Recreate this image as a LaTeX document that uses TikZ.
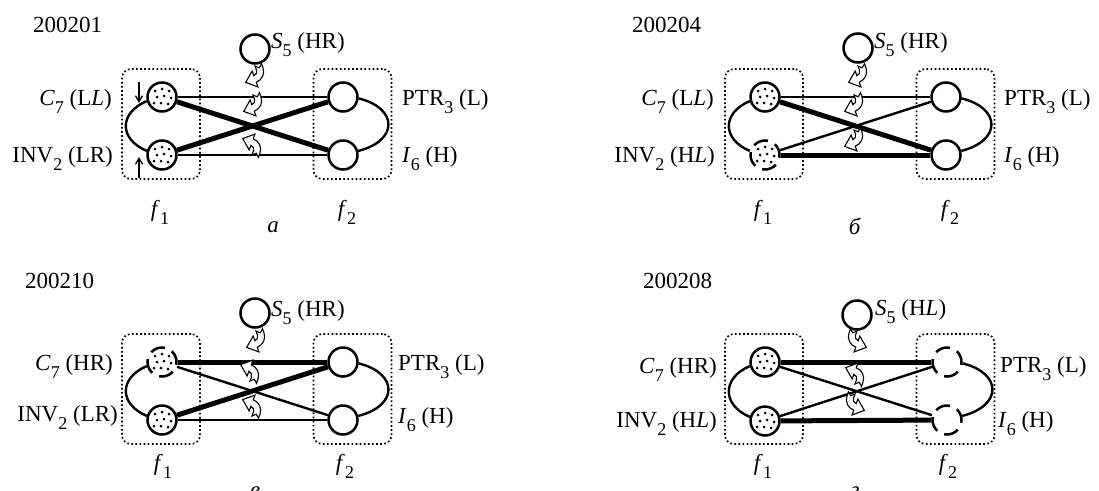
\documentclass[tikz,border=0pt]{standalone}
\usepackage{fontspec}
\setmainfont{Liberation Serif}
\usetikzlibrary{arrows.meta}
% lowered index, set smaller than the main text
\newcommand\lo[1]{\raisebox{-8pt}{\fontsize{18}{18}\selectfont #1}}
\tikzset{
  unit/.style={circle, draw, line width=2.5pt, minimum size=29pt, inner sep=0pt},
  speckled/.style={path picture={
      \foreach \dx/\dy in {-7/-6, 0/-8, 7/-6, -5/0, 2/-1, 9/1, -8/6, -1/6, 6/7}
        \fill ([shift={(\dx,\dy)}]path picture bounding box.center) circle (1.5pt);}},
  broken/.style={dash pattern=on 15pt off 7.8pt, dash phase=3pt},
  fgroup/.style={draw, rounded corners=9pt, line width=1.7pt,
      dash pattern=on 1.7pt off 2.4pt, minimum width=78pt, minimum height=110pt, inner sep=0pt},
  weak/.style={line width=2.4pt},
  strong/.style={line width=5pt},
  lbl/.style={anchor=base west, inner sep=0pt},
  rlbl/.style={anchor=base east, inner sep=0pt},
  clbl/.style={anchor=base, inner sep=0pt},
  tick/.style={line width=1.3pt, -{Straight Barb[length=6pt,width=7pt,line width=1.3pt]}},
  % hollow ribbon arrow: notched tail on top right, head pointing left
  turn/.pic={
    \draw[line width=1.1pt, fill=white, line join=miter, scale=1.25, shift={(-0.5,-4.75)}]
      (9,-3.5) -- (9,0) .. controls (9,5) and (5,9) .. (0,9)
      -- (0,13) -- (-8,6.25) -- (0,-0.5) -- (0,3.5)
      .. controls (1.9,3.5) and (3.5,1.9) .. (3.5,0)
      -- (3.5,-3.5) -- (6.25,-1) -- cycle;
  }
}
\begin{document}
\begin{tikzpicture}[x=1pt, y=-1pt, font=\fontsize{23}{27}\selectfont]
\useasboundingbox (0,0) rectangle (1099,490);

% ---------- panel a ----------
\begin{scope}
  \node[lbl] (a-title) at (33,32) {200201};
  \node[fgroup] (a-f1box) at (161,124) {};
  \node[fgroup] (a-f2box) at (352.5,124) {};
  \node[unit] (a-S5) at (255,49) {};
  \node[unit, speckled] (a-C7) at (162,97) {};
  \node[unit, speckled] (a-INV2) at (162,155) {};
  \node[unit] (a-PTR3) at (343,97) {};
  \node[unit] (a-I6) at (343,155) {};
  \draw[weak] (a-C7) -- (a-PTR3);
  \draw[strong] (a-C7) -- (a-I6);
  \draw[strong] (a-INV2) -- (a-PTR3);
  \draw[weak] (a-INV2) -- (a-I6);
  \draw[weak] (a-C7.195) .. controls +(-28,12) and +(-28,-12) .. (a-INV2.165);
  \draw[weak] (a-PTR3.-5) .. controls +(40,10) and +(40,-10) .. (a-I6.15);
  \node[lbl] (a-S5t) at (271,48) {\textit{S}\lo{5} (HR)};
  \node[rlbl] (a-C7t) at (112,105) {\textit{C}\lo{7} (L\textit{L})};
  \node[rlbl] (a-INV2t) at (113,162) {INV\lo{2} (LR)};
  \node[lbl] (a-PTR3t) at (402,105) {PTR\lo{3} (L)};
  \node[lbl] (a-I6t) at (402,162) {\textit{I}\lo{6} (H)};
  \node[clbl] (a-f1) at (160,216) {\textit{f}\lo{1}};
  \node[clbl] (a-f2) at (347,216) {\textit{f}\lo{2}};
  \node[clbl] (a-tag) at (273,232) {\textit{а}};
  \coordinate (a-d0) at (139,82);  \coordinate (a-d1) at (139,103);
  \coordinate (a-u0) at (139,178); \coordinate (a-u1) at (139,157);
  \draw[tick] (a-d0) -- (a-d1);
  \draw[tick] (a-u0) -- (a-u1);
  \pic[rotate=20] at (255,77) {turn};
  \pic[rotate=20] at (253,106) {turn};
  \pic[rotate=-20, yscale=-1] at (252,144) {turn};
\end{scope}

% ---------- panel b ----------
\begin{scope}[shift={(603,0)}]
  \node[lbl] (b-title) at (29,32) {200204};
  \node[fgroup] (b-f1box) at (161,124) {};
  \node[fgroup] (b-f2box) at (352.5,124) {};
  \node[unit] (b-S5) at (255,48) {};
  \node[unit, speckled] (b-C7) at (162,97) {};
  \node[unit, speckled, broken] (b-INV2) at (162,155) {};
  \node[unit] (b-PTR3) at (343,97) {};
  \node[unit] (b-I6) at (343,155) {};
  \draw[weak] (b-C7) -- (b-PTR3);
  \draw[strong] (b-C7) -- (b-I6);
  \draw[weak] (b-INV2) -- (b-PTR3);
  \draw[strong] (b-INV2) -- (b-I6);
  \draw[weak] (b-C7.195) .. controls +(-28,12) and +(-28,-12) .. (b-INV2.165);
  \draw[weak] (b-PTR3.-5) .. controls +(40,10) and +(40,-10) .. (b-I6.15);
  \node[lbl] (b-S5t) at (271,48) {\textit{S}\lo{5} (HR)};
  \node[rlbl] (b-C7t) at (111,105) {\textit{C}\lo{7} (L\textit{L})};
  \node[rlbl] (b-INV2t) at (112,162) {INV\lo{2} (H\textit{L})};
  \node[lbl] (b-PTR3t) at (401,105) {PTR\lo{3} (L)};
  \node[lbl] (b-I6t) at (401,162) {\textit{I}\lo{6} (H)};
  \node[clbl] (b-f1) at (160,216) {\textit{f}\lo{1}};
  \node[clbl] (b-f2) at (347,216) {\textit{f}\lo{2}};
  \node[clbl] (b-tag) at (252,234) {\textit{б}};
  \pic[rotate=20] at (255,77) {turn};
  \pic[rotate=20] at (251,106) {turn};
  \pic[rotate=20] at (251,141) {turn};
\end{scope}

% ---------- panel v ----------
\begin{scope}[shift={(0,265)}]
  \node[lbl] (c-title) at (25,23) {200210};
  \node[fgroup] (c-f1box) at (161,124) {};
  \node[fgroup] (c-f2box) at (352.5,124) {};
  \node[unit] (c-S5) at (255,48) {};
  \node[unit, speckled, broken] (c-C7) at (162,97) {};
  \node[unit, speckled] (c-INV2) at (162,155) {};
  \node[unit] (c-PTR3) at (343,97) {};
  \node[unit] (c-I6) at (343,155) {};
  \draw[strong] (c-C7) -- (c-PTR3);
  \draw[weak] (c-C7) -- (c-I6);
  \draw[strong] (c-INV2) -- (c-PTR3);
  \draw[weak] (c-INV2) -- (c-I6);
  \draw[weak] (c-C7.195) .. controls +(-28,12) and +(-28,-12) .. (c-INV2.165);
  \draw[weak] (c-PTR3.-5) .. controls +(40,10) and +(40,-10) .. (c-I6.15);
  \node[lbl] (c-S5t) at (271,51) {\textit{S}\lo{5} (HR)};
  \node[rlbl] (c-C7t) at (113,105) {\textit{C}\lo{7} (HR)};
  \node[rlbl] (c-INV2t) at (118,156) {INV\lo{2} (LR)};
  \node[lbl] (c-PTR3t) at (398,105) {PTR\lo{3} (L)};
  \node[lbl] (c-I6t) at (398,158) {\textit{I}\lo{6} (H)};
  \node[clbl] (c-f1) at (163,205) {\textit{f}\lo{1}};
  \node[clbl] (c-f2) at (345,205) {\textit{f}\lo{2}};
  \node[clbl] (c-tag) at (255,232) {\textit{в}};
  \pic[rotate=20] at (256,77) {turn};
  \pic[rotate=-20, yscale=-1] at (250,105) {turn};
  \pic[rotate=-20, yscale=-1] at (252,140) {turn};
\end{scope}

% ---------- panel g ----------
\begin{scope}[shift={(603,265)}]
  \node[lbl] (d-title) at (40,23) {200208};
  \node[fgroup] (d-f1box) at (161,124) {};
  \node[fgroup] (d-f2box) at (352.5,124) {};
  \node[unit] (d-S5) at (254,50) {};
  \node[unit, speckled] (d-C7) at (162,97) {};
  \node[unit, speckled] (d-INV2) at (162,156) {};
  \node[unit, broken] (d-PTR3) at (344,97) {};
  \node[unit, broken] (d-I6) at (344,155) {};
  \draw[strong] (d-C7) -- (d-PTR3);
  \draw[weak] (d-C7) -- (d-I6);
  \draw[weak] (d-INV2) -- (d-PTR3);
  \draw[strong] (d-INV2) -- (d-I6);
  \draw[weak] (d-C7.195) .. controls +(-28,12) and +(-28,-12) .. (d-INV2.165);
  \draw[weak] (d-PTR3.-5) .. controls +(40,10) and +(40,-10) .. (d-I6.15);
  \node[lbl] (d-S5t) at (272,50) {\textit{S}\lo{5} (H\textit{L})};
  \node[rlbl] (d-C7t) at (114,108) {\textit{C}\lo{7} (HR)};
  \node[rlbl] (d-INV2t) at (114,162) {INV\lo{2} (H\textit{L})};
  \node[lbl] (d-PTR3t) at (397,107) {PTR\lo{3} (L)};
  \node[lbl] (d-I6t) at (395,162) {\textit{I}\lo{6} (H)};
  \node[clbl] (d-f1) at (160,205) {\textit{f}\lo{1}};
  \node[clbl] (d-f2) at (345,205) {\textit{f}\lo{2}};
  \node[clbl] (d-tag) at (252,232) {\textit{г}};
  \pic[rotate=-20, xscale=-1] at (254,77) {turn};
  \pic[rotate=-20, yscale=-1] at (252,108) {turn};
  \pic[rotate=-20, xscale=-1] at (252,140) {turn};
\end{scope}
\end{tikzpicture}
\end{document}
